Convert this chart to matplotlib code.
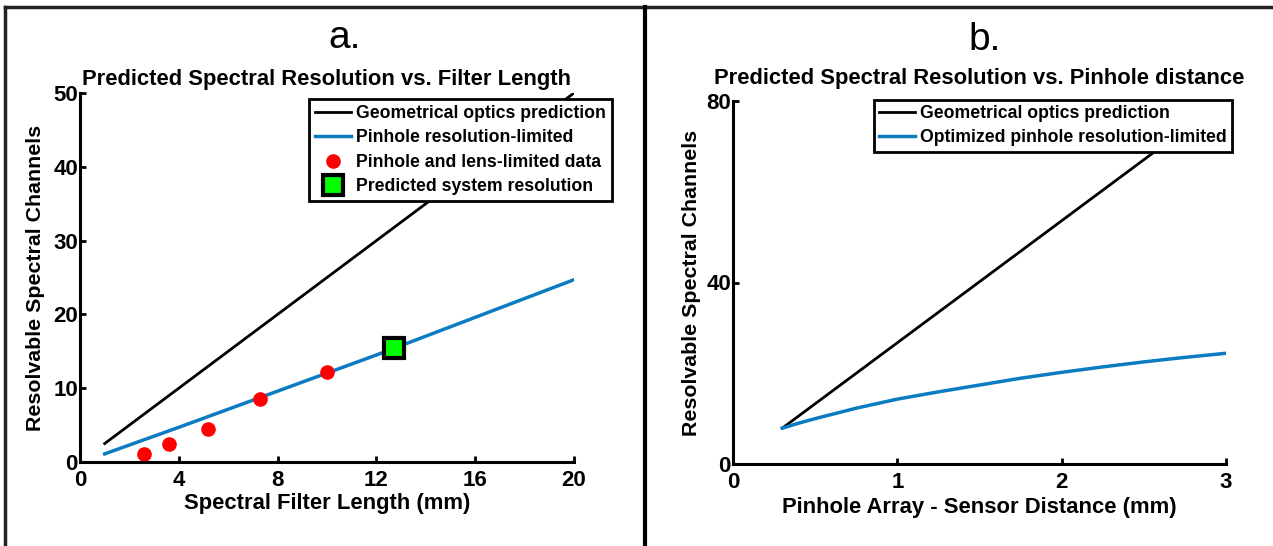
import numpy as np
import matplotlib
matplotlib.use('Agg')
import matplotlib.pyplot as plt
from matplotlib.lines import Line2D

plt.rcParams['font.family'] = ['Liberation Sans', 'DejaVu Sans']
plt.rcParams['font.weight'] = 'bold'

# painel a: resolucao vs comprimento do filtro
filtro_geo_x = [1, 20]
filtro_geo_y = [2.5, 50]
filtro_pin_x = [1, 4, 8, 12, 16, 20]
filtro_pin_y = [1.1, 4.7, 9.6, 14.5, 19.6, 24.7]
dados_x = [2.6, 3.6, 5.2, 7.3, 10.0]
dados_y = [1.1, 2.5, 4.5, 8.6, 12.2]
sistema_x = [12.7]
sistema_y = [15.4]

# painel b: resolucao vs distancia do pinhole
dist_geo_x = [0.3, 3.0]
dist_geo_y = [7.9, 80.5]
dist_pin_x = [0.3, 0.4, 0.5, 0.75, 1.0, 1.25, 1.5, 1.75, 2.0, 2.25, 2.5, 2.75, 3.0]
dist_pin_y = [7.9, 9.0, 10.0, 12.3, 14.3, 15.9, 17.4, 18.9, 20.2, 21.4, 22.5, 23.5, 24.4]

AZUL = '#0B7CC2'

fig = plt.figure(figsize=(12.73, 5.46), dpi=100)
W, H = 1273, 546


def eixo(px0, py0, px1, py1):
    return fig.add_axes([px0 / W, 1 - py1 / H, (px1 - px0) / W, (py1 - py0) / H])


def estilo(ax):
    for s in ['top', 'right']:
        ax.spines[s].set_visible(False)
    for s in ['left', 'bottom']:
        ax.spines[s].set_linewidth(2.2)
    ax.tick_params(direction='in', length=4, width=2, labelsize=16)
    ax.tick_params(axis='x', pad=6)
    ax.tick_params(axis='y', pad=1.5)
    for lab in ax.get_xticklabels() + ax.get_yticklabels():
        lab.set_fontweight('bold')


# --- painel a
ax1 = eixo(80, 93, 574, 462)
ax1.plot(filtro_geo_x, filtro_geo_y, color='black', lw=2, label='Geometrical optics prediction')
ax1.plot(filtro_pin_x, filtro_pin_y, color=AZUL, lw=2.5, label='Pinhole resolution-limited')
ax1.plot(dados_x, dados_y, 'o', color='red', ms=9.5, mec='red', label='Pinhole and lens-limited data')
ax1.plot(sistema_x, sistema_y, 's', color='#00FF00', mec='black', mew=3, ms=14,
         label='Predicted system resolution')
ax1.set_xlim(0, 20)
ax1.set_ylim(0, 50)
ax1.set_xticks([0, 4, 8, 12, 16, 20])
ax1.set_yticks([0, 10, 20, 30, 40, 50])
ax1.set_xlabel('Spectral Filter Length (mm)', fontsize=15.8, fontweight='bold', labelpad=1)
ax1.set_ylabel('Resolvable Spectral Channels', fontsize=15.4, fontweight='bold', labelpad=6)
ax1.set_title('Predicted Spectral Resolution vs. Filter Length', fontsize=15.8,
              fontweight='bold', pad=6)
estilo(ax1)
leg1 = ax1.legend(loc='upper right', bbox_to_anchor=(1.077, 0.984), borderaxespad=0,
                  fancybox=False, edgecolor='black', framealpha=1, fontsize=12.7,
                  handlelength=2.0, handletextpad=0.3, labelspacing=0.42,
                  borderpad=0.35, numpoints=1)
leg1.get_frame().set_linewidth(2)

# --- painel b
ax2 = eixo(733, 101, 1226, 464)
ax2.plot(dist_geo_x, dist_geo_y, color='black', lw=2, label='Geometrical optics prediction')
ax2.plot(dist_pin_x, dist_pin_y, color=AZUL, lw=2.5, label='Optimized pinhole resolution-limited')
ax2.set_xlim(0, 3)
ax2.set_ylim(0, 80)
ax2.set_xticks([0, 1, 2, 3])
ax2.set_yticks([0, 40, 80])
ax2.set_xlabel('Pinhole Array - Sensor Distance (mm)', fontsize=15.8, fontweight='bold', labelpad=3)
ax2.set_ylabel('Resolvable Spectral Channels', fontsize=15.4, fontweight='bold', labelpad=4)
ax2.set_title('Predicted Spectral Resolution vs. Pinhole distance', fontsize=15.8,
              fontweight='bold', pad=12)
estilo(ax2)
leg2 = ax2.legend(loc='upper right', bbox_to_anchor=(1.012, 1.004), borderaxespad=0,
                  fancybox=False, edgecolor='black', framealpha=1, fontsize=12.7,
                  handlelength=2.0, handletextpad=0.3, labelspacing=0.42,
                  borderpad=0.3)
leg2.get_frame().set_linewidth(2)

# letras dos paineis
fig.text(345 / W, 1 - 38 / H, 'a.', fontsize=28, fontweight='normal', ha='center', va='center')
fig.text(985 / W, 1 - 40 / H, 'b.', fontsize=28, fontweight='normal', ha='center', va='center')

# moldura e divisoria
fig.add_artist(Line2D([5 / W, 5 / W], [0, 1 - 7 / H], color='#222222', lw=2.5))
fig.add_artist(Line2D([5 / W, 1], [1 - 7 / H, 1 - 7 / H], color='#222222', lw=2.5))
fig.add_artist(Line2D([645 / W, 645 / W], [0, 1 - 7 / H], color='black', lw=3))

fig.savefig('out.png', dpi=100)
